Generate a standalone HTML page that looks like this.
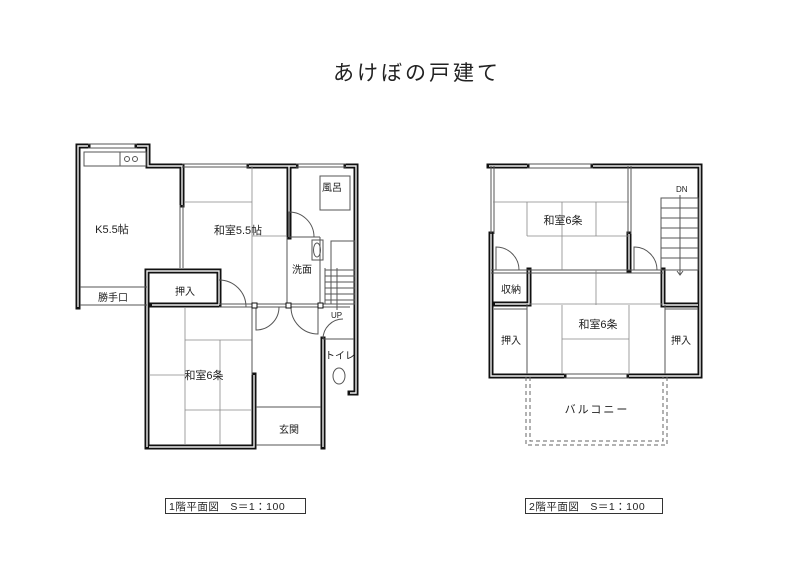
<!DOCTYPE html>
<html><head><meta charset="utf-8"><style>
html,body{margin:0;padding:0;background:#fff;}
svg{display:block;}
text{font-family:"Liberation Sans","Noto Sans CJK JP",sans-serif;fill:#222;}
.t{fill:none;stroke:#555;stroke-width:1;}
.th{fill:none;stroke:#888;stroke-width:0.8;}
.d{fill:none;stroke:#666;stroke-width:1;stroke-dasharray:4 3;}
</style></head><body>
<svg width="800" height="566" viewBox="0 0 800 566" xmlns="http://www.w3.org/2000/svg">
<defs>
<g id="walls">
<path d="M78 307 V146 H88"/>
<path d="M137 146 H148 V166 H182 V205"/>
<path d="M249 166 H296 M289 166 V237"/>
<path d="M346 166 H356 V393 H350"/>
<path d="M147 447 V271 H219 V305"/>
<path d="M152 305 H219"/>
<path d="M149 447 H217"/>
<path d="M217 447 H254 V375"/>
<path d="M323 447 V339"/>
<path d="M489 166 H527 M593 166 H700 V376 H629"/>
<path d="M491 234 V376 H564"/>
<path d="M529 270 V304 H495"/>
<path d="M629 234 V270"/>
<path d="M663 270 V305 H698"/>
</g>
</defs>
<text x="417" y="80" font-size="21" text-anchor="middle" letter-spacing="3">あけぼの戸建て</text>

<use href="#walls" style="fill:none;stroke:#111;stroke-width:5;stroke-linecap:square"/>
<use href="#walls" style="fill:none;stroke:#eee;stroke-width:1.4;stroke-linecap:butt"/>

<!-- ========== 1F ========== -->
<g class="t">
<line x1="88" y1="144" x2="137" y2="144"/><line x1="88" y1="148" x2="137" y2="148"/>
<line x1="182" y1="164" x2="249" y2="164"/><line x1="182" y1="167" x2="249" y2="167"/>
<line x1="296" y1="164" x2="346" y2="164"/><line x1="296" y1="167" x2="346" y2="167"/>
<rect x="84" y="152" width="62" height="14"/>
<line x1="120" y1="152" x2="120" y2="166"/>
<circle cx="127" cy="159" r="2.5"/><circle cx="135" cy="159" r="2.5"/>
<line x1="180" y1="205" x2="180" y2="268"/><line x1="183" y1="205" x2="183" y2="268"/>
<line x1="80" y1="287" x2="147" y2="287"/><line x1="80" y1="305" x2="147" y2="305"/>
<line x1="219" y1="304" x2="350" y2="304"/><line x1="219" y1="307" x2="350" y2="307"/>
<line x1="185" y1="202" x2="252" y2="202" class="th"/>
<line x1="252" y1="166" x2="252" y2="304" class="th"/>
<line x1="252" y1="236" x2="287" y2="236" class="th"/>
<line x1="287" y1="237" x2="287" y2="304"/>
<line x1="185" y1="307" x2="185" y2="445" class="th"/>
<line x1="185" y1="340" x2="252" y2="340" class="th"/>
<line x1="220" y1="340" x2="220" y2="445" class="th"/>
<line x1="150" y1="375" x2="185" y2="375" class="th"/>
<line x1="185" y1="410" x2="252" y2="410" class="th"/>
<line x1="252" y1="307" x2="252" y2="375"/>
<line x1="256" y1="407" x2="321" y2="407"/>
<line x1="256" y1="445" x2="321" y2="445"/>
<rect x="320" y="176" width="30" height="34"/>
<line x1="289" y1="237" x2="320" y2="237"/>
<line x1="320" y1="237" x2="320" y2="304"/>
<rect x="312" y="240" width="11" height="20"/>
<ellipse cx="317" cy="250" rx="3.5" ry="7"/>
<rect x="331" y="241" width="24" height="63"/>
<line x1="325" y1="268" x2="325" y2="304"/>
<line x1="325" y1="270" x2="355" y2="270"/><line x1="325" y1="276" x2="355" y2="276"/>
<line x1="325" y1="282" x2="355" y2="282"/><line x1="325" y1="288" x2="355" y2="288"/>
<line x1="325" y1="294" x2="355" y2="294"/><line x1="325" y1="300" x2="355" y2="300"/>
<line x1="337" y1="268" x2="337" y2="310"/>
<line x1="323" y1="339" x2="354" y2="339"/>
<ellipse cx="339" cy="376" rx="6" ry="8"/>
<path d="M289 237 V212 A25 25 0 0 1 314 237"/>
<path d="M219 280 A27 27 0 0 1 246 307"/>
<path d="M256 307 V330 A23 23 0 0 0 279 307"/>
<path d="M291 307 A27 27 0 0 0 318 334 V307"/>
<path d="M323 339 A20 20 0 0 1 343 319"/>
</g>
<rect x="252" y="303" width="5" height="5" fill="#fff" stroke="#111"/>
<rect x="286" y="303" width="5" height="5" fill="#fff" stroke="#111"/>
<rect x="318" y="303" width="5" height="5" fill="#fff" stroke="#111"/>
<g font-size="11">
<text x="112" y="233" text-anchor="middle">K5.5帖</text>
<text x="238" y="234" text-anchor="middle">和室5.5帖</text>
<text x="332" y="191" text-anchor="middle" font-size="10">風呂</text>
<text x="292" y="273" font-size="10">洗面</text>
<text x="185" y="295" text-anchor="middle" font-size="10">押入</text>
<text x="113" y="301" text-anchor="middle" font-size="10">勝手口</text>
<text x="204" y="379" text-anchor="middle">和室6条</text>
<text x="289" y="433" text-anchor="middle" font-size="10">玄関</text>
<text x="325" y="359" font-size="10">トイレ</text>
<text x="331" y="318" font-size="8">UP</text>
</g>

<!-- ========== 2F ========== -->
<g class="t">
<line x1="527" y1="164" x2="593" y2="164"/><line x1="527" y1="168" x2="593" y2="168"/>
<line x1="564" y1="374" x2="629" y2="374"/><line x1="564" y1="378" x2="629" y2="378"/>
<line x1="491" y1="166" x2="491" y2="234"/><line x1="494" y1="166" x2="494" y2="234"/>
<line x1="628" y1="166" x2="628" y2="234"/><line x1="631" y1="166" x2="631" y2="234"/>
<line x1="491" y1="270" x2="663" y2="270"/><line x1="491" y1="273" x2="663" y2="273"/>
<line x1="529" y1="304" x2="663" y2="304" class="th"/>
<line x1="494" y1="309" x2="527" y2="309"/>
<line x1="665" y1="309" x2="698" y2="309"/>
<line x1="527" y1="304" x2="527" y2="374"/>
<line x1="665" y1="305" x2="665" y2="374"/>
<line x1="493" y1="202" x2="629" y2="202" class="th"/>
<line x1="527" y1="202" x2="527" y2="236" class="th"/>
<line x1="562" y1="202" x2="562" y2="270" class="th"/>
<line x1="596" y1="202" x2="596" y2="236" class="th"/>
<line x1="527" y1="236" x2="629" y2="236" class="th"/>
<line x1="596" y1="270" x2="596" y2="305" class="th"/>
<line x1="562" y1="305" x2="562" y2="374" class="th"/>
<line x1="629" y1="305" x2="629" y2="374" class="th"/>
<line x1="562" y1="339" x2="629" y2="339" class="th"/>
<rect x="661" y="198" width="37" height="72" fill="none"/>
<line x1="661" y1="208" x2="698" y2="208"/><line x1="661" y1="218" x2="698" y2="218"/>
<line x1="661" y1="228" x2="698" y2="228"/><line x1="661" y1="238" x2="698" y2="238"/>
<line x1="661" y1="248" x2="698" y2="248"/><line x1="661" y1="258" x2="698" y2="258"/>
<line x1="680" y1="195" x2="680" y2="275"/>
<path d="M677 271 L680 275 L683 271"/>
<path d="M496 270 V247 A23 23 0 0 1 519 270"/>
<path d="M634 270 V247 A23 23 0 0 1 657 270"/>
</g>
<path class="d" d="M526 377 V445 H667 V377"/>
<path class="d" d="M530 377 V441 H663 V377"/>
<g font-size="11">
<text x="563" y="224" text-anchor="middle">和室6条</text>
<text x="598" y="328" text-anchor="middle">和室6条</text>
<text x="511" y="293" text-anchor="middle" font-size="10">収納</text>
<text x="511" y="344" text-anchor="middle" font-size="10">押入</text>
<text x="681" y="344" text-anchor="middle" font-size="10">押入</text>
<text x="676" y="192" font-size="8">DN</text>
<text x="597" y="413" text-anchor="middle" letter-spacing="2">バルコニー</text>
</g>

<rect x="165.5" y="498.5" width="140" height="15" fill="none" stroke="#333"/>
<text x="169" y="510" font-size="10.5" letter-spacing="0.5">1階平面図　S＝1：100</text>
<rect x="525.5" y="498.5" width="137" height="15" fill="none" stroke="#333"/>
<text x="529" y="510" font-size="10.5" letter-spacing="0.5">2階平面図　S＝1：100</text>
</svg>
</body></html>
